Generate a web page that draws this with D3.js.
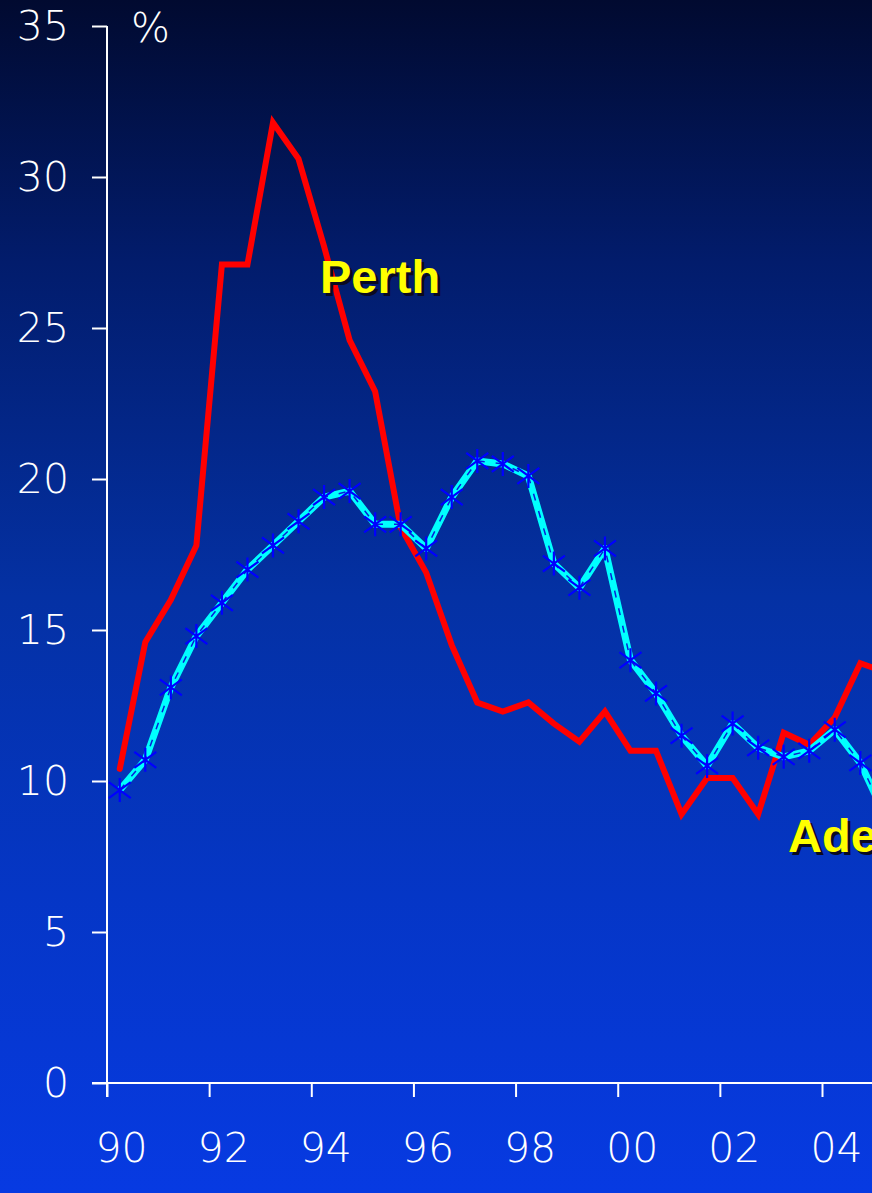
<!DOCTYPE html>
<html>
<head>
<meta charset="utf-8">
<script src="https://cdn.jsdelivr.net/npm/d3@7/dist/d3.min.js"></script>
<style>
  html, body { margin: 0; padding: 0; background: #021a66; }
  svg { display: block; }
</style>
</head>
<body>
<svg id="chart" width="872" height="1193"></svg>
<script>
// Half-yearly observation points (decimal years, mid-period)
const periods = [
  90.25, 90.75, 91.25, 91.75, 92.25, 92.75, 93.25, 93.75, 94.25, 94.75,
  95.25, 95.75, 96.25, 96.75, 97.25, 97.75, 98.25, 98.75, 99.25, 99.75,
  100.25, 100.75, 101.25, 101.75, 102.25, 102.75, 103.25, 103.75, 104.25, 104.75,
  105.25
];

// Perth, per cent
const perth = [
  10.4, 14.6, 16.0, 17.8, 27.1, 27.1, 31.8, 30.6, 27.7, 24.6,
  22.9, 18.4, 16.9, 14.5, 12.6, 12.3, 12.6, 11.9, 11.3, 12.3,
  11.0, 11.0, 8.9, 10.1, 10.1, 8.9, 11.6, 11.2, 12.1, 13.9,
  13.6
];

// Adelaide, per cent
const adelaide = [
  9.7, 10.7, 13.1, 14.8, 15.9, 17.0, 17.8, 18.6, 19.4, 19.6,
  18.5, 18.5, 17.7, 19.4, 20.6, 20.5, 20.1, 17.2, 16.4, 17.7,
  14.0, 12.9, 11.5, 10.5, 11.9, 11.1, 10.8, 11.0, 11.7, 10.6,
  8.8
];

const yTicks = [0, 5, 10, 15, 20, 25, 30, 35];
const xTicks = [90, 92, 94, 96, 98, 100, 102, 104];
const xTickLabels = ["90", "92", "94", "96", "98", "00", "02", "04"];

const W = 872, H = 1193;
const svg = d3.select("#chart");

// Background gradient, dark navy at the top to bright blue at the bottom
const defs = svg.append("defs");
const grad = defs.append("linearGradient")
  .attr("id", "bg").attr("x1", 0).attr("y1", 0).attr("x2", 0).attr("y2", 1);
[["0%", "#010a30"], ["22%", "#021c6c"], ["50%", "#0431a4"], ["75%", "#0536c6"], ["100%", "#073ae2"]]
  .forEach(([o, c]) => grad.append("stop").attr("offset", o).attr("stop-color", c));
svg.append("rect").attr("width", W).attr("height", H).attr("fill", "url(#bg)");

const x = d3.scaleLinear().domain([90, 104]).range([107, 822]);
const y = d3.scaleLinear().domain([0, 35]).range([1083, 26]);

const axisFont = "'DejaVu Sans', sans-serif";

// Y axis
const yAxis = svg.append("g")
  .attr("transform", `translate(${x(90)},0)`)
  .call(d3.axisLeft(y).tickValues(yTicks).tickSize(15).tickPadding(23).tickSizeOuter(0));
yAxis.select(".domain").remove();
yAxis.append("line")
  .attr("x1", 0).attr("x2", 0).attr("y1", y(35)).attr("y2", y(0) + 14)
  .attr("stroke", "#fff").attr("stroke-width", 2);
yAxis.selectAll(".tick line").attr("stroke", "#fff").attr("stroke-width", 2);
yAxis.selectAll(".tick text")
  .attr("fill", "#fff").attr("font-family", axisFont).attr("font-size", 41)
  .attr("font-weight", 300);

// X axis
const xAxis = svg.append("g")
  .attr("transform", `translate(0,${y(0)})`)
  .call(d3.axisBottom(x).tickValues(xTicks).tickSize(14).tickSizeOuter(0)
    .tickFormat((d, i) => xTickLabels[i]));
xAxis.select(".domain").remove();
xAxis.append("line")
  .attr("x1", x(90) - 15).attr("x2", W).attr("y1", 0).attr("y2", 0)
  .attr("stroke", "#fff").attr("stroke-width", 2);
xAxis.selectAll(".tick line").attr("stroke", "#fff").attr("stroke-width", 2);
xAxis.selectAll(".tick text")
  .attr("fill", "#fff").attr("font-family", axisFont).attr("font-size", 41)
  .attr("font-weight", 300)
  .attr("x", 14).attr("y", 0).attr("dy", 0)
  .attr("transform", "translate(0,79)");

// Unit label
svg.append("text")
  .attr("x", 131).attr("y", 42)
  .attr("fill", "#fff").attr("font-family", axisFont).attr("font-size", 41)
  .attr("font-weight", 300)
  .text("%");

const line = d3.line().x((d, i) => x(periods[i])).y(d => y(d));

// Perth series
svg.append("path")
  .datum(perth)
  .attr("d", line)
  .attr("fill", "none")
  .attr("stroke", "#ff0000")
  .attr("stroke-width", 6)
  .attr("stroke-linejoin", "miter")
  .attr("stroke-linecap", "round");

// Adelaide series: thick cyan line with a fine blue dashed core and asterisk markers
svg.append("path")
  .datum(adelaide)
  .attr("d", line)
  .attr("fill", "none")
  .attr("stroke", "#00ffff")
  .attr("stroke-width", 7)
  .attr("stroke-linejoin", "round");
svg.append("path")
  .datum(adelaide)
  .attr("d", line)
  .attr("fill", "none")
  .attr("stroke", "#0a1fd8")
  .attr("stroke-width", 1.5)
  .attr("stroke-dasharray", "7,11");

const asterisk = "M0,-12V12M-11,-8L11,8M-11,8L11,-8";
svg.append("g").selectAll("path")
  .data(adelaide)
  .join("path")
  .attr("transform", (d, i) => `translate(${x(periods[i])},${y(d)})`)
  .attr("d", asterisk)
  .attr("fill", "none")
  .attr("stroke", "#0000ff")
  .attr("stroke-width", 2.2);

// Series name labels with drop shadow
function seriesLabel(text, lx, ly) {
  const g = svg.append("g")
    .attr("font-family", "'Liberation Sans', Arial, sans-serif")
    .attr("font-weight", "bold")
    .attr("font-size", 47);
  g.append("text").attr("x", lx + 3).attr("y", ly + 3).attr("fill", "#0a0a20").text(text);
  g.append("text").attr("x", lx).attr("y", ly).attr("fill", "#ffff00").text(text);
}
seriesLabel("Perth", 320, 293);
seriesLabel("Adelaide", 788, 852);
</script>
</body>
</html>
